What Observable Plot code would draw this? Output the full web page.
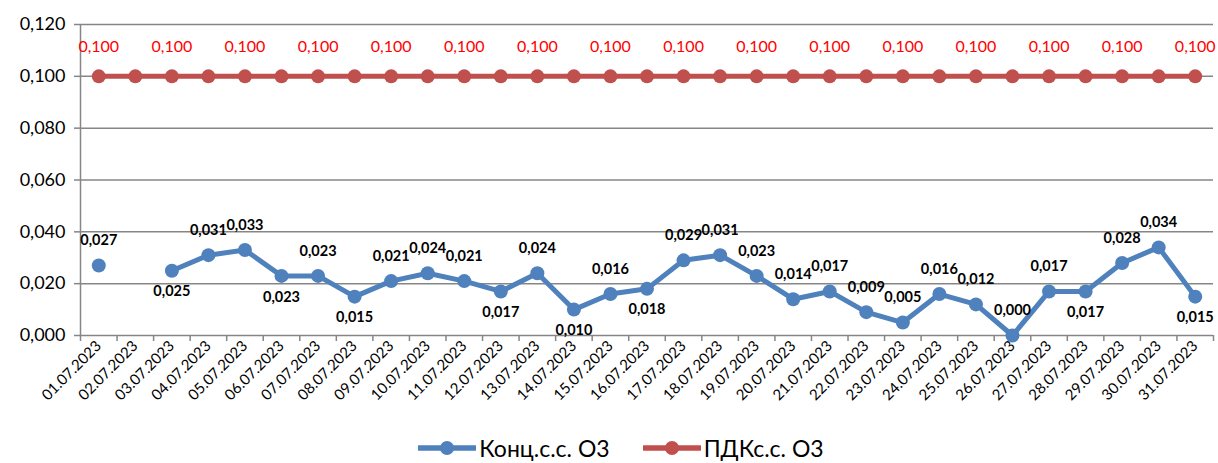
<!DOCTYPE html>
<html><head><meta charset="utf-8">
<script src="https://cdn.jsdelivr.net/npm/d3@7"></script>
<script src="https://cdn.jsdelivr.net/npm/@observablehq/plot@0.6"></script>
<style>
body{margin:0;background:#fff;font-family:Lato,"Noto Sans",sans-serif;}
#chart{width:1218px;height:420px;}
#legend{display:flex;justify-content:center;align-items:center;height:43px;box-sizing:border-box;padding-top:12px;padding-left:24px;font-size:23px;color:#000;}
.item{display:flex;align-items:center;}
.item svg{margin-right:3px;}
.gap{width:33px;}
</style></head><body><div id="chart"></div><div id="legend"></div>
<script>
const dates = ["01.07.2023","02.07.2023","03.07.2023","04.07.2023","05.07.2023","06.07.2023","07.07.2023","08.07.2023","09.07.2023","10.07.2023","11.07.2023","12.07.2023","13.07.2023","14.07.2023","15.07.2023","16.07.2023","17.07.2023","18.07.2023","19.07.2023","20.07.2023","21.07.2023","22.07.2023","23.07.2023","24.07.2023","25.07.2023","26.07.2023","27.07.2023","28.07.2023","29.07.2023","30.07.2023","31.07.2023"];
const conc = [0.027,null,0.025,0.031,0.033,0.023,0.023,0.015,0.021,0.024,0.021,0.017,0.024,0.010,0.016,0.018,0.029,0.031,0.023,0.014,0.017,0.009,0.005,0.016,0.012,0.000,0.017,0.017,0.028,0.034,0.015];
const pdk = [0.100,0.100,0.100,0.100,0.100,0.100,0.100,0.100,0.100,0.100,0.100,0.100,0.100,0.100,0.100,0.100,0.100,0.100,0.100,0.100,0.100,0.100,0.100,0.100,0.100,0.100,0.100,0.100,0.100,0.100,0.100];
const yTicks = [0,0.02,0.04,0.06,0.08,0.10,0.12];
const seriesNames = ["Конц.с.с. О3","ПДКс.с. О3"];
const colors = ["#4f81bd","#c0504d"];

const fmt = v => d3.format(".3f")(v).replace(".", ",");
const rows = dates.map((d,i) => ({i, pos: i + 0.5, date: d, conc: conc[i], pdk: pdk[i]}));
const belowDates = new Set(["03.07.2023","06.07.2023","08.07.2023","12.07.2023","14.07.2023","16.07.2023","28.07.2023","31.07.2023"]);
const concRows = rows.filter(r => r.conc != null);
const above = concRows.filter(r => !belowDates.has(r.date));
const below = concRows.filter(r => belowDates.has(r.date));
const pdkLabeled = rows.filter(r => r.i % 2 === 0);
const grid = "#868686";

const chart = Plot.plot({
  width: 1218, height: 420,
  marginLeft: 80, marginRight: 5, marginTop: 24, marginBottom: 85,
  style: {fontFamily: "Lato, 'Noto Sans', sans-serif", background: "#fff"},
  x: {type: "linear", domain: [0, 31]},
  y: {domain: [0, 0.12]},
  marks: [
    Plot.gridY(yTicks, {stroke: grid, strokeOpacity: 1, strokeWidth: 1.5}),
    Plot.ruleX([0], {y1: 0, y2: 0.12, stroke: grid, strokeWidth: 1.5}),
    Plot.axisY(yTicks, {tickSize: 6, tickPadding: 9, tickFormat: fmt, fontSize: 18, stroke: grid, strokeWidth: 1.5, fill: "#000", label: null}),
    Plot.axisX(d3.range(32), {tickSize: 6, tickFormat: () => "", stroke: grid, strokeWidth: 1.5, label: null}),
    Plot.axisX(rows.map(r => r.pos), {tickSize: 0, tickPadding: 8, tickRotate: -45, tickFormat: d => dates[d - 0.5], fontSize: 15, fill: "#000", label: null}),
    Plot.line(rows, {x: "pos", y: "pdk", stroke: colors[1], strokeWidth: 5}),
    Plot.dot(rows, {x: "pos", y: "pdk", r: 7, fill: colors[1]}),
    Plot.text(pdkLabeled, {x: "pos", y: "pdk", text: d => fmt(d.pdk), dy: -29, fill: "#ff0000", fontSize: 16}),
    Plot.line(rows, {x: "pos", y: "conc", stroke: colors[0], strokeWidth: 5}),
    Plot.dot(concRows, {x: "pos", y: "conc", r: 7, fill: colors[0]}),
    Plot.text(above, {x: "pos", y: "conc", text: d => fmt(d.conc), dy: -25, fill: "#000", fontSize: 14.5, fontWeight: "bold"}),
    Plot.text(below, {x: "pos", y: "conc", text: d => fmt(d.conc), dy: 21, fill: "#000", fontSize: 14.5, fontWeight: "bold"})
  ]
});
document.getElementById("chart").append(chart);

const legend = document.getElementById("legend");
seriesNames.forEach((name, k) => {
  if (k > 0) { const g = document.createElement("div"); g.className = "gap"; legend.append(g); }
  const item = document.createElement("div"); item.className = "item";
  item.innerHTML = `<svg width="58" height="18"><line x1="1" y1="9" x2="57" y2="9" stroke="${colors[k]}" stroke-width="5.5" stroke-linecap="round"/><circle cx="29" cy="9" r="7" fill="${colors[k]}"/></svg><span>${name}</span>`;
  legend.append(item);
});
</script></body></html>
